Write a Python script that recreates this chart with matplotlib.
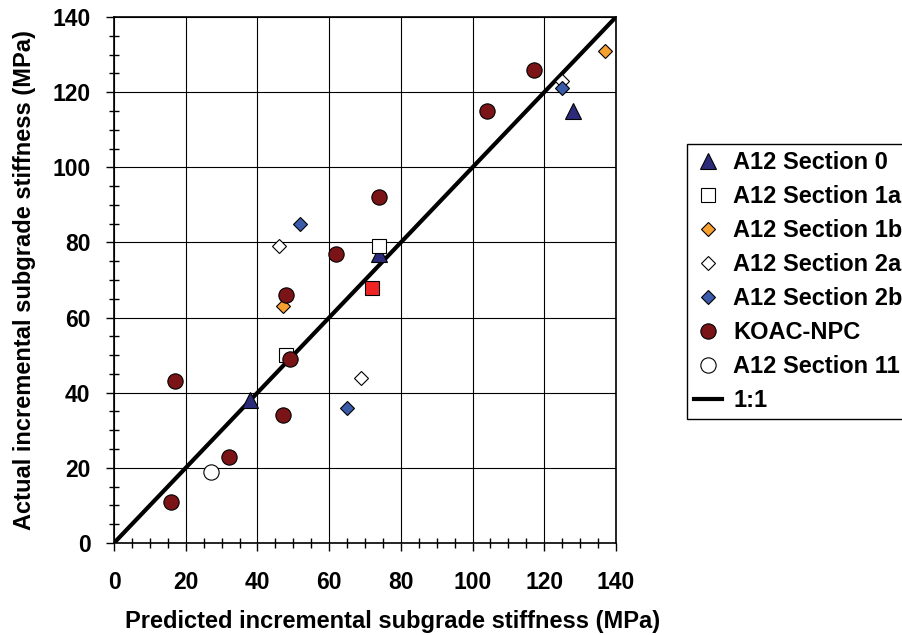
import matplotlib
matplotlib.use("Agg")
import matplotlib.pyplot as plt
from matplotlib.ticker import MultipleLocator

plt.rcParams["font.family"] = ["Liberation Sans", "DejaVu Sans"]
plt.rcParams["font.weight"] = "bold"

# predicted (x) vs actual (y) incremental subgrade stiffness, MPa
sec0_x = [38, 74, 128]
sec0_y = [38, 77, 115]
sec1a_x = [74, 48]
sec1a_y = [79, 50]
sec1b_x = [137, 47]
sec1b_y = [131, 63]
sec2a_x = [46, 125, 69]
sec2a_y = [79, 123, 44]
sec2b_x = [52, 125, 65]
sec2b_y = [85, 121, 36]
koac_x = [117, 104, 74, 62, 48, 49, 17, 47, 32, 16]
koac_y = [126, 115, 92, 77, 66, 49, 43, 34, 23, 11]
sec11_x = [27]
sec11_y = [19]
red_x = [72]
red_y = [68]

fig = plt.figure(figsize=(9.02, 6.35), dpi=100)
ax = fig.add_axes([0.1264, 0.1449, 0.5565, 0.8283])

ax.plot(sec0_x, sec0_y, "^", ms=11, mfc="#2B2B7A", mec="black", mew=0.8, ls="none", label="A12 Section 0", zorder=4)
ax.plot(sec1a_x, sec1a_y, "s", ms=10.5, mfc="white", mec="black", mew=0.8, ls="none", label="A12 Section 1a", zorder=5)
ax.plot(red_x, red_y, "s", ms=10.5, mfc="#EE2424", mec="black", mew=0.8, ls="none", label="_nolegend_", zorder=5)
ax.plot(sec1b_x, sec1b_y, "D", ms=7, mfc="#F7A030", mec="black", mew=0.8, ls="none", label="A12 Section 1b", zorder=4)
ax.plot(sec2a_x, sec2a_y, "D", ms=7, mfc="white", mec="black", mew=0.8, ls="none", label="A12 Section 2a", zorder=4)
ax.plot(sec2b_x, sec2b_y, "D", ms=7, mfc="#3A5BAA", mec="black", mew=0.8, ls="none", label="A12 Section 2b", zorder=4)
ax.plot(koac_x, koac_y, "o", ms=11, mfc="#7B1416", mec="black", mew=0.8, ls="none", label="KOAC-NPC", zorder=5)
ax.plot(sec11_x, sec11_y, "o", ms=11, mfc="white", mec="black", mew=0.8, ls="none", label="A12 Section 11", zorder=4)
ax.plot([0, 140], [0, 140], color="black", lw=3, label="1:1", zorder=3)

ax.set_xlim(0, 140)
ax.set_ylim(0, 140)
ax.xaxis.set_major_locator(MultipleLocator(20))
ax.yaxis.set_major_locator(MultipleLocator(20))
ax.xaxis.set_minor_locator(MultipleLocator(5))
ax.yaxis.set_minor_locator(MultipleLocator(5))
ax.grid(True, which="major", color="black", lw=0.8)
ax.tick_params(which="major", direction="out", length=6, width=1, labelsize=16.5)
ax.tick_params(which="minor", direction="inout", length=7, width=1)
ax.tick_params(axis="x", which="major", pad=14)
ax.tick_params(axis="y", which="major", pad=11)
for s in ax.spines.values():
    s.set_linewidth(1.2)
for lab in ax.get_xticklabels() + ax.get_yticklabels():
    lab.set_fontweight("bold")

ax.set_xlabel("Predicted incremental subgrade stiffness (MPa)", fontsize=17, fontweight="bold", va="center")
ax.xaxis.set_label_coords(0.554, -0.150)
ax.set_ylabel("Actual incremental subgrade stiffness (MPa)", fontsize=17, fontweight="bold", va="center")
ax.yaxis.set_label_coords(-0.178, 0.5)

leg = ax.legend(loc="upper left", bbox_to_anchor=(0.7616, 0.7732), bbox_transform=fig.transFigure,
                fontsize=17, frameon=True, fancybox=False, framealpha=1, edgecolor="black",
                handlelength=1.2, handletextpad=0.45, labelspacing=0.465, borderpad=0.3, borderaxespad=0)
leg.get_frame().set_linewidth(1)

fig.savefig("out.png", dpi=100)
